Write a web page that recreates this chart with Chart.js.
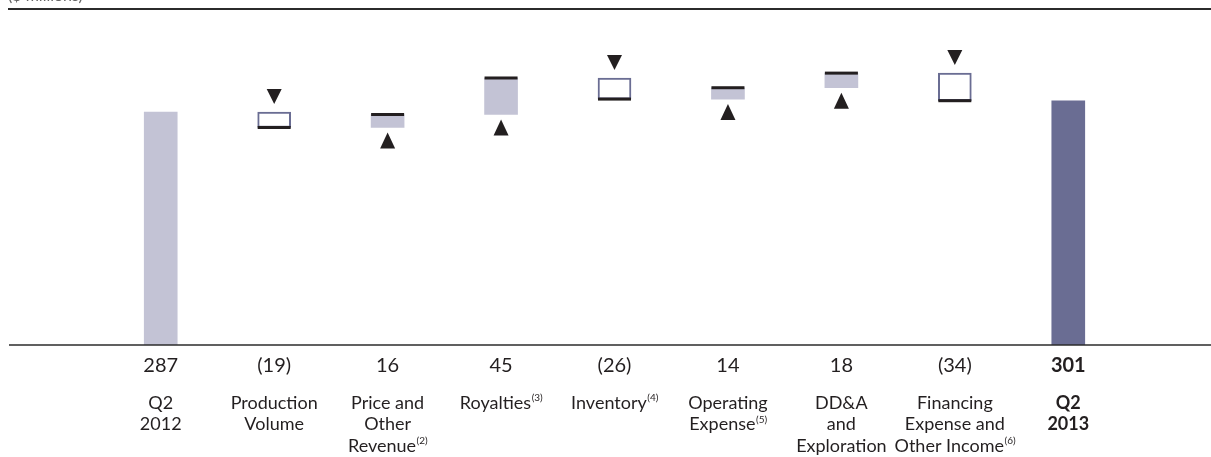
<!DOCTYPE html>
<html>
<head>
<meta charset="utf-8">
<script src="https://cdn.jsdelivr.net/npm/chart.js@4/dist/chart.umd.min.js"></script>
<style>
  html, body { margin: 0; padding: 0; background: #fff; }
  #wrap { width: 1211px; height: 457px; position: relative; }
</style>
</head>
<body>
<div id="wrap"><canvas id="c" width="1211" height="457"></canvas></div>
<script>
// ---- data ----
const categoryLines = [
  ['Q2', '2012'],
  ['Production', 'Volume'],
  ['Price and', 'Other', 'Revenue'],
  ['Royalties'],
  ['Inventory'],
  ['Operating', 'Expense'],
  ['DD&A', 'and', 'Exploration'],
  ['Financing', 'Expense and', 'Other Income'],
  ['Q2', '2013']
];
const footnotes = ['', '', '(2)', '(3)', '(4)', '(5)', '', '(6)', ''];
const values = [287, -19, 16, 45, -26, 14, 18, -34, 301];
const valueLabels = ['287', '(19)', '16', '45', '(26)', '14', '18', '(34)', '301'];
const isTotal = [true, false, false, false, false, false, false, false, true];
const unitLabel = '($ millions)';

// ---- build floating ranges ----
const ranges = [];
let running = 0;
values.forEach((v, i) => {
  if (isTotal[i]) { ranges.push([0, v]); running = v; }
  else { ranges.push([running, running + v]); running += v; }
});

const LIGHT = '#c3c3d5';
const DARK = '#6a6d93';
const INK = '#231f20';

const bg = values.map((v, i) => isTotal[i] ? (i === 0 ? LIGHT : DARK) : (v >= 0 ? LIGHT : '#ffffff'));
const bc = values.map((v, i) => isTotal[i] ? 'rgba(0,0,0,0)' : (v >= 0 ? 'rgba(0,0,0,0)' : DARK));
const bw = values.map((v, i) => isTotal[i] ? 0 : (v >= 0 ? 0 : 2));

const FONT = 'Lato, "Open Sans", sans-serif';
const LABEL_PX = 18;
const VALUE_PX = 20;
const SUP_PX = 10;

const decor = {
  id: 'decor',
  afterDatasetsDraw(chart) {
    const ctx = chart.ctx;
    const ys = chart.scales.y;
    const meta = chart.getDatasetMeta(0);
    ctx.save();
    meta.data.forEach((bar, i) => {
      if (isTotal[i]) return;
      const end = ranges[i][1];
      const start = ranges[i][0];
      const half = bar.width / 2;
      const yEnd = ys.getPixelForValue(end);
      ctx.fillStyle = INK;
      ctx.fillRect(bar.x - half, yEnd - 1.5, bar.width, 3);
      const yTop = ys.getPixelForValue(Math.max(start, end));
      const yBot = ys.getPixelForValue(Math.min(start, end));
      ctx.beginPath();
      if (values[i] < 0) {
        const apex = yTop - 8;
        ctx.moveTo(bar.x, apex);
        ctx.lineTo(bar.x - 7.5, apex - 15);
        ctx.lineTo(bar.x + 7.5, apex - 15);
      } else {
        const apex = yBot + 5;
        ctx.moveTo(bar.x, apex);
        ctx.lineTo(bar.x - 7.5, apex + 16);
        ctx.lineTo(bar.x + 7.5, apex + 16);
      }
      ctx.closePath();
      ctx.fill();
    });
    ctx.restore();
  },
  afterDraw(chart) {
    const ctx = chart.ctx;
    const ys = chart.scales.y;
    const xs = chart.scales.x;
    const W = chart.width;
    ctx.save();
    ctx.strokeStyle = '#2b2b2b';
    ctx.lineWidth = 2;
    ctx.beginPath();
    ctx.moveTo(8, chart.chartArea.top);
    ctx.lineTo(W, chart.chartArea.top);
    ctx.stroke();
    ctx.lineWidth = 1.5;
    ctx.beginPath();
    const y0 = ys.getPixelForValue(0);
    ctx.moveTo(9, y0);
    ctx.lineTo(W, y0);
    ctx.stroke();
    // unit label (mostly above the page top)
    ctx.fillStyle = '#666';
    ctx.font = '16px ' + FONT;
    ctx.textAlign = 'left';
    ctx.textBaseline = 'alphabetic';
    ctx.fillText(unitLabel, 8, 1);
    // value row + category labels
    ctx.fillStyle = INK;
    ctx.textAlign = 'center';
    ctx.textBaseline = 'middle';
    categoryLines.forEach((lines, i) => {
      const x = xs.getPixelForValue(i);
      const bold = (i === categoryLines.length - 1);
      const w = bold ? 'bold ' : '';
      ctx.font = w + VALUE_PX + 'px ' + FONT;
      ctx.fillText(valueLabels[i], x, y0 + 21);
      ctx.font = w + LABEL_PX + 'px ' + FONT;
      lines.forEach((ln, k) => {
        const y = y0 + 58 + k * 21.5;
        const isLast = k === lines.length - 1;
        if (isLast && footnotes[i]) {
          const mainW = ctx.measureText(ln).width;
          ctx.font = SUP_PX + 'px ' + FONT;
          const supW = ctx.measureText(footnotes[i]).width;
          ctx.font = w + LABEL_PX + 'px ' + FONT;
          const left = x - (mainW + supW) / 2;
          ctx.textAlign = 'left';
          ctx.fillText(ln, left, y);
          ctx.font = SUP_PX + 'px ' + FONT;
          ctx.fillText(footnotes[i], left + mainW + 0.5, y - 5);
          ctx.font = w + LABEL_PX + 'px ' + FONT;
          ctx.textAlign = 'center';
        } else {
          ctx.fillText(ln, x, y);
        }
      });
    });
    ctx.restore();
  }
};

new Chart(document.getElementById('c'), {
  type: 'bar',
  data: {
    labels: categoryLines.map(l => l.join(' ')),
    datasets: [{
      data: ranges,
      backgroundColor: bg,
      borderColor: bc,
      borderWidth: bw,
      borderSkipped: false,
      barThickness: 33
    }]
  },
  options: {
    responsive: false,
    animation: false,
    layout: { padding: { left: 104, right: 86, top: 9, bottom: 112 } },
    plugins: { legend: { display: false }, tooltip: { enabled: false } },
    scales: {
      x: { display: false, offset: true, grid: { display: false } },
      y: { display: false, min: 0, max: 414, grid: { display: false } }
    }
  },
  plugins: [decor]
});
</script>
</body>
</html>
